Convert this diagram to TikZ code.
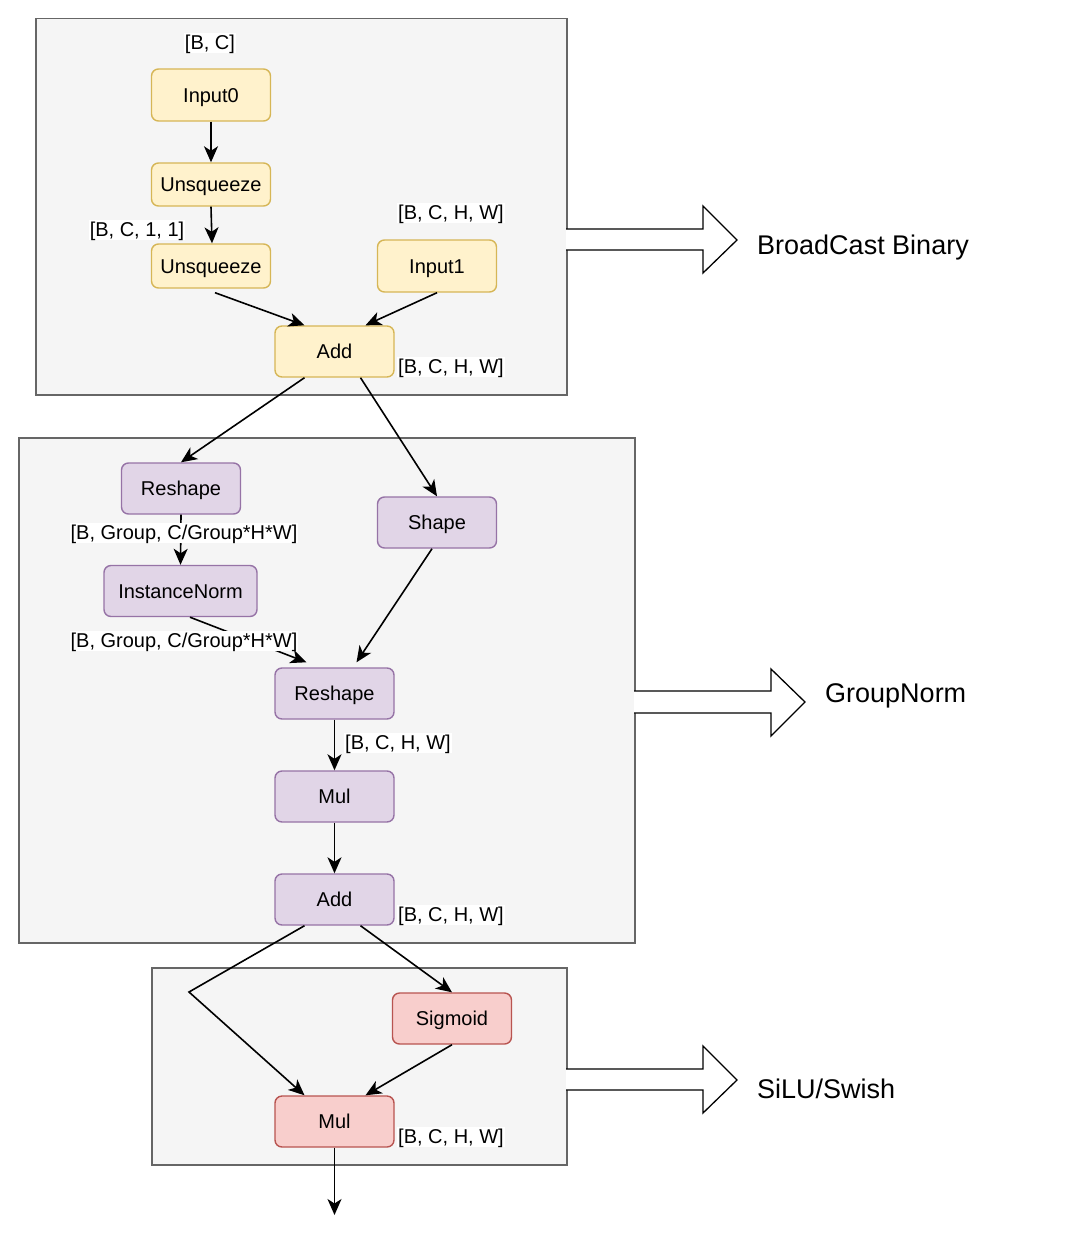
\documentclass[tikz,border=0pt]{standalone}
\usepackage{fontspec}
\setmainfont{Liberation Sans}
\usetikzlibrary{arrows.meta,calc}
\definecolor{yfill}{HTML}{FFF2CC}
\definecolor{ydraw}{HTML}{D6B656}
\definecolor{pfill}{HTML}{E1D5E7}
\definecolor{pdraw}{HTML}{9673A6}
\definecolor{rfill}{HTML}{F8CECC}
\definecolor{rdraw}{HTML}{B85450}
\definecolor{cfill}{HTML}{F5F5F5}
\definecolor{cdraw}{HTML}{666666}
\begin{document}
\begin{tikzpicture}[x=1pt,y=-1pt,
  op/.style={rectangle,rounded corners=7pt,minimum width=119pt,minimum height=51pt,line width=1.4pt,font=\fontsize{20}{24}\selectfont,inner sep=0pt,text height=14.5pt,text depth=0pt},
  yop/.style={op,fill=yfill,draw=ydraw},
  pop/.style={op,fill=pfill,draw=pdraw},
  rop/.style={op,fill=rfill,draw=rdraw},
  grp/.style={rectangle,draw=cdraw,fill=cfill,line width=1.5pt,anchor=north west,inner sep=0pt},
  edge/.style={draw=black,line width=1.6pt,-{Stealth[length=16pt,width=14pt,inset=4.5pt]}},
  lbl/.style={font=\fontsize{20}{24}\selectfont,fill=white,inner sep=1pt,text height=15pt,text depth=3pt},
  big/.style={font=\fontsize{27}{32}\selectfont,inner sep=1pt},
  barrow/.style={draw=black,line width=1.3pt,line join=miter}]
\useasboundingbox (0,0) rectangle (1080,1247);
\fill[white] (0,0) rectangle (1080,1247);

% containers
\node[grp,minimum width=531pt,minimum height=376pt] (g1) at (35,18) {};
\node[grp,minimum width=616pt,minimum height=505pt] (g2) at (18,437) {};
\node[grp,minimum width=415pt,minimum height=197pt] (g3) at (151,967) {};

% block arrows
\fill[white] (566,229) -- (703,229) -- (703,206) -- (737,240) -- (703,273) -- (703,250) -- (566,250) -- cycle;
\draw[barrow] (566,229) -- (703,229) -- (703,206) -- (737,240) -- (703,273) -- (703,250) -- (566,250);
\fill[white] (634,691) -- (771,691) -- (771,669) -- (805,702) -- (771,736) -- (771,713) -- (634,713) -- cycle;
\draw[barrow] (634,691) -- (771,691) -- (771,669) -- (805,702) -- (771,736) -- (771,713) -- (634,713);
\fill[white] (566,1069) -- (703,1069) -- (703,1046) -- (737,1080) -- (703,1113) -- (703,1090) -- (566,1090) -- cycle;
\draw[barrow] (566,1069) -- (703,1069) -- (703,1046) -- (737,1080) -- (703,1113) -- (703,1090) -- (566,1090);

\node[big,anchor=west] (t1) at (756,248) {BroadCast Binary};
\node[big,anchor=west] (t2) at (824,696) {GroupNorm};
\node[big,anchor=west] (t3) at (756,1089) {SiLU/Swish};

% nodes
\node[yop,minimum height=52pt] (in0) at (211,95) {Input0};
\node[yop,minimum height=43pt] (u1) at (211,184.5) {Unsqueeze};
\node[yop,minimum height=44pt] (u2) at (211,266) {Unsqueeze};
\node[yop,minimum height=52pt] (in1) at (437,266) {Input1};
\node[yop] (add1) at (334.5,351.5) {Add};

\node[pop] (rs1) at (181,488.5) {Reshape};
\node[pop] (shp) at (437,522.5) {Shape};
\node[pop,minimum width=153pt] (inorm) at (180.5,591) {InstanceNorm};
\node[pop] (rs2) at (334.5,693.5) {Reshape};
\node[pop] (mul2) at (334.5,796.5) {Mul};
\node[pop] (add2) at (334.5,899.5) {Add};

\node[rop] (sig) at (452,1018.5) {Sigmoid};
\node[rop] (mul3) at (334.5,1121.5) {Mul};
\coordinate (out) at (334.5,1215);
\coordinate (bend) at (189,992);

% edges
\draw[edge] (in0.south) -- (u1.north);
\draw[edge] (u1.south) -- ([xshift=1pt]u2.north);
\draw[edge] ([xshift=4pt,yshift=-4pt]u2.south) -- ([xshift=-30pt]add1.north);
\draw[edge] (in1.south) -- ([xshift=31pt]add1.north);
\draw[edge] ([xshift=-30pt]add1.south) -- (rs1.north);
\draw[edge] ([xshift=26pt]add1.south) -- (shp.north);
\draw[edge] (rs1.south) -- (inorm.north);
\draw[edge] ([xshift=9.5pt]inorm.south) -- ([xshift=-28pt,yshift=5pt]rs2.north);
\draw[edge] ([xshift=-5pt]shp.south) -- ([xshift=22pt,yshift=5pt]rs2.north);
\draw[edge] (rs2.south) -- (mul2.north);
\draw[edge] (mul2.south) -- (add2.north);
\draw[edge] ([xshift=-30pt]add2.south) -- (bend) -- ([xshift=-30pt]mul3.north);
\draw[edge] ([xshift=26pt]add2.south) -- (sig.north);
\draw[edge] (sig.south) -- ([xshift=31pt]mul3.north);
\draw[edge] (mul3.south) -- (out);

% labels
\node[lbl] (l1) at (210,43) {[B, C]};
\node[lbl] (l2) at (451,213) {[B, C, H, W]};
\node[lbl] (l3) at (137,230) {[B, C, 1, 1]};
\node[lbl] (l4) at (451,367) {[B, C, H, W]};
\node[lbl] (l5) at (184,533) {[B, Group, C/Group*H*W]};
\node[lbl] (l6) at (184,641) {[B, Group, C/Group*H*W]};
\node[lbl,anchor=west] (l7) at (344,743) {[B, C, H, W]};
\node[lbl] (l8) at (451,915) {[B, C, H, W]};
\node[lbl] (l9) at (451,1137) {[B, C, H, W]};
\end{tikzpicture}
\end{document}
